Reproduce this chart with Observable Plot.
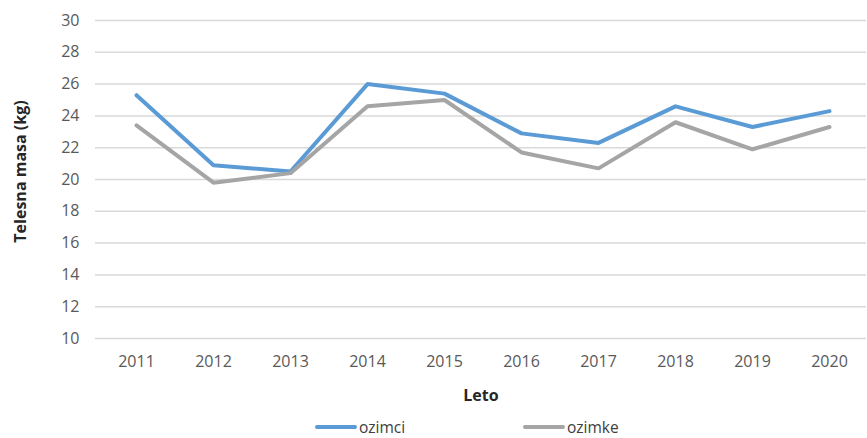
<!DOCTYPE html>
<html>
<head>
<meta charset="utf-8">
<script src="https://cdn.jsdelivr.net/npm/d3@7"></script>
<script src="https://cdn.jsdelivr.net/npm/@observablehq/plot@0.6"></script>
<style>
  body { margin: 0; background: #fff; font-family: "Open Sans", "Noto Sans", sans-serif; overflow: hidden; }
  #chart svg { display: block; }
  #legend { position: relative; height: 28px; font-size: 15.5px; line-height: 16px; color: #404040; }
  .item { position: absolute; top: 9px; height: 16px; display: flex; align-items: center; }
  .sw { width: 42px; height: 4px; border-radius: 2px; margin-right: 2px; }
</style>
</head>
<body>
<div id="chart"></div>
<div id="legend"></div>
<script>
const years = ["2011","2012","2013","2014","2015","2016","2017","2018","2019","2020"];
const ozimci = [25.3, 20.9, 20.5, 26.0, 25.4, 22.9, 22.3, 24.6, 23.3, 24.3];
const ozimke = [23.4, 19.8, 20.4, 24.6, 25.0, 21.7, 20.7, 23.6, 21.9, 23.3];
const yTicks = [10, 12, 14, 16, 18, 20, 22, 24, 26, 28, 30];
const seriesNames = ["ozimci", "ozimke"];
const colors = ["#5B9BD5", "#A5A5A5"];

const data = [];
years.forEach((y, i) => {
  data.push({year: y, value: ozimci[i], series: "ozimci"});
  data.push({year: y, value: ozimke[i], series: "ozimke"});
});

const chart = Plot.plot({
  width: 867,
  height: 410,
  marginTop: 20,
  marginBottom: 72,
  marginLeft: 95,
  marginRight: 1,
  style: {fontFamily: "'Open Sans', 'Noto Sans', sans-serif", fontSize: "16px", color: "#595959", background: "#fff"},
  x: {type: "point", domain: years, range: [134, 830], padding: 0, label: null},
  y: {domain: [10, 30], ticks: yTicks, label: null},
  color: {domain: seriesNames, range: colors},
  marks: [
    Plot.gridY(yTicks, {stroke: "#d9d9d9", strokeOpacity: 1, strokeWidth: 1.5}),
    Plot.axisY(yTicks, {tickSize: 0, tickPadding: 16, fontSize: 16, label: null, fill: "#595959"}),
    Plot.axisX(years, {tickSize: 0, tickPadding: 17, fontSize: 16, label: null, fill: "#595959"}),
    Plot.line(data, {x: "year", y: "value", z: "series", stroke: "series", strokeWidth: 4, strokeLinejoin: "round", strokeLinecap: "round", curve: "linear"}),
    Plot.text(["Leto"], {frameAnchor: "bottom", dy: 62, text: d => d, fontWeight: "bold", fontSize: 16, fill: "#262626"}),
    Plot.text(["Telesna masa (kg)"], {frameAnchor: "left", textAnchor: "middle", dx: -75, dy: -8, rotate: -90, text: d => d, fontWeight: "bold", fontSize: 16, fill: "#262626"})
  ]
});
document.getElementById("chart").appendChild(chart);

const legend = document.getElementById("legend");
const lx = [315, 523];
seriesNames.forEach((s, i) => {
  const it = document.createElement("div");
  it.className = "item";
  it.style.left = lx[i] + "px";
  const sw = document.createElement("div");
  sw.className = "sw";
  sw.style.background = colors[i];
  const t = document.createElement("span");
  t.textContent = s;
  it.appendChild(sw);
  it.appendChild(t);
  legend.appendChild(it);
});
</script>
</body>
</html>
